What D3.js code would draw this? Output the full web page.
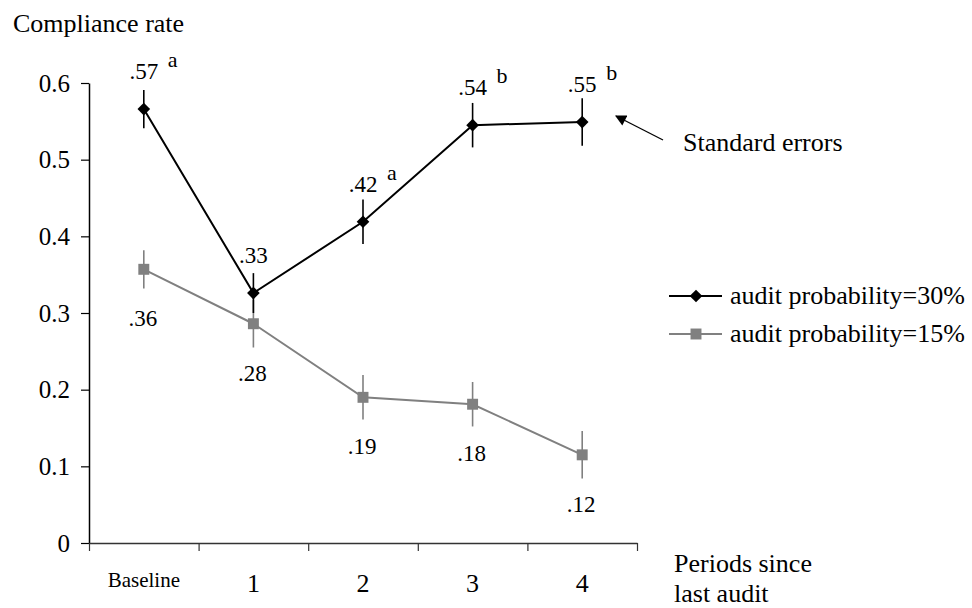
<!DOCTYPE html>
<html>
<head>
<meta charset="utf-8">
<title>Compliance rate</title>
<script src="https://cdn.jsdelivr.net/npm/d3@7"></script>
<style>
  body { margin: 0; background: #fff; }
</style>
</head>
<body>
<script>
// data
var periods = ["Baseline", "1", "2", "3", "4"];
var high = [0.566, 0.326, 0.419, 0.545, 0.549];      // audit probability=30%
var highSE = [0.025, 0.026, 0.029, 0.029, 0.031];
var highLabels = [".57", ".33", ".42", ".54", ".55"];
var highSup = ["a", "", "a", "b", "b"];
var low = [0.357, 0.286, 0.19, 0.181, 0.115];          // audit probability=15%
var lowSE = [0.025, 0.031, 0.029, 0.029, 0.031];
var lowLabels = [".36", ".28", ".19", ".18", ".12"];
var yTicks = [0, 0.1, 0.2, 0.3, 0.4, 0.5, 0.6];

var W = 972, H = 608;
var FONT = '"Liberation Serif"';
var svg = d3.select("body").append("svg")
    .attr("width", W)
    .attr("height", H);

var x = d3.scaleBand().domain(periods).range([89, 637]);
var xEdge = d3.scaleLinear().domain([0, periods.length]).range([89, 637]);
var y = d3.scaleLinear().domain([0, 0.6]).range([543, 83]);
var cx = function(i) { return x(periods[i]) + x.bandwidth() / 2; };

// y axis
var yAxis = svg.append("g")
    .attr("transform", "translate(89,0)")
    .call(d3.axisLeft(y).tickValues(yTicks).tickSize(8).tickSizeOuter(0).tickPadding(11)
        .tickFormat(function(d) { return d === 0 ? "0" : d3.format(".1f")(d); }));
yAxis.select(".domain").attr("stroke", "#000").attr("stroke-width", 1.5);
yAxis.selectAll(".tick line").attr("stroke", "#000").attr("stroke-width", 1.2);
yAxis.selectAll(".tick text").style("font-size", "25px");

// x axis, ticks at category boundaries
var xAxis = svg.append("g")
    .attr("transform", "translate(0,543)")
    .call(d3.axisBottom(xEdge).tickValues(d3.range(periods.length + 1)).tickSize(8).tickSizeOuter(0)
        .tickFormat(""));
xAxis.select(".domain").attr("stroke", "#333").attr("stroke-width", 1.5);
xAxis.selectAll(".tick line").attr("stroke", "#333").attr("stroke-width", 1.2);

svg.append("g").selectAll("text")
    .data(periods)
    .enter().append("text")
    .attr("x", function(d) { return x(d) + x.bandwidth() / 2; })
    .attr("y", function(d, i) { return i === 0 ? 587 : 592; })
    .attr("text-anchor", "middle")
    .style("font-size", function(d, i) { return i === 0 ? "21px" : "26px"; })
    .text(function(d) { return d; });

// titles
svg.append("text").attr("x", 13).attr("y", 32).style("font-size", "26px").text("Compliance rate");
svg.append("text").attr("x", 674).attr("y", 572).style("font-size", "26px").text("Periods since");
svg.append("text").attr("x", 674).attr("y", 602).style("font-size", "26px").text("last audit");

var line = d3.line()
    .x(function(d, i) { return cx(i); })
    .y(function(d) { return y(d); });

function drawSeries(vals, se, color, diamond) {
    var g = svg.append("g");
    g.selectAll(".err")
        .data(vals)
        .enter().append("line")
        .attr("x1", function(d, i) { return cx(i); })
        .attr("x2", function(d, i) { return cx(i); })
        .attr("y1", function(d, i) { return y(d + se[i]); })
        .attr("y2", function(d, i) { return y(d - se[i]); })
        .attr("stroke", color)
        .attr("stroke-width", 1.6);
    g.append("path")
        .datum(vals)
        .attr("d", line)
        .attr("fill", "none")
        .attr("stroke", color)
        .attr("stroke-width", 2);
    g.selectAll(".mk")
        .data(vals)
        .enter().append("path")
        .attr("d", d3.symbol().type(d3.symbolSquare).size(diamond ? 80 : 120))
        .attr("transform", function(d, i) {
            return "translate(" + cx(i) + "," + y(d) + ")" + (diamond ? " rotate(45)" : "");
        })
        .attr("fill", color);
}

drawSeries(low, lowSE, "#808080", false);
drawSeries(high, highSE, "#000", true);

// value labels
svg.append("g").selectAll("text")
    .data(high)
    .enter().append("text")
    .attr("x", function(d, i) { return cx(i); })
    .attr("y", function(d) { return y(d) - 30; })
    .attr("text-anchor", "middle")
    .style("font-size", "23px")
    .text(function(d, i) { return highLabels[i]; });
svg.append("g").selectAll("text")
    .data(high)
    .enter().append("text")
    .attr("x", function(d, i) { return cx(i) + 24; })
    .attr("y", function(d) { return y(d) - 42; })
    .style("font-size", "22px")
    .text(function(d, i) { return highSup[i]; });
svg.append("g").selectAll("text")
    .data(low)
    .enter().append("text")
    .attr("x", function(d, i) { return cx(i) - 1; })
    .attr("y", function(d) { return y(d) + 57; })
    .attr("text-anchor", "middle")
    .style("font-size", "23px")
    .text(function(d, i) { return lowLabels[i]; });

// standard errors annotation
svg.append("defs").append("marker")
    .attr("id", "arrow")
    .attr("viewBox", "0 0 10 10")
    .attr("refX", 9).attr("refY", 5)
    .attr("markerWidth", 12).attr("markerHeight", 11)
    .attr("markerUnits", "userSpaceOnUse")
    .attr("orient", "auto")
    .append("path").attr("d", "M0,0L10,5L0,10z").attr("fill", "#000");
svg.append("line")
    .attr("x1", 663).attr("y1", 140)
    .attr("x2", 616).attr("y2", 116)
    .attr("stroke", "#000").attr("stroke-width", 1.3)
    .attr("marker-end", "url(#arrow)");
svg.append("text").attr("x", 683).attr("y", 151).style("font-size", "26px").text("Standard errors");

// legend
var legend = [
    { name: "audit probability=30%", color: "#000", diamond: true },
    { name: "audit probability=15%", color: "#808080", diamond: false }
];
var lg = svg.append("g").selectAll("g")
    .data(legend)
    .enter().append("g")
    .attr("transform", function(d, i) { return "translate(669," + (296 + i * 38) + ")"; });
lg.append("line")
    .attr("x1", 0).attr("x2", 53)
    .attr("stroke", function(d) { return d.color; })
    .attr("stroke-width", 2);
lg.append("path")
    .attr("d", function(d) { return d3.symbol().type(d3.symbolSquare).size(d.diamond ? 80 : 120)(); })
    .attr("transform", function(d) { return "translate(27,0)" + (d.diamond ? " rotate(45)" : ""); })
    .attr("fill", function(d) { return d.color; });
lg.append("text")
    .attr("x", 61).attr("y", 8)
    .style("font-size", "26px")
    .text(function(d) { return d.name; });

// serif everywhere, set inline so nothing overrides it
svg.selectAll("text").style("font-family", FONT).style("fill", "#000");
</script>
</body>
</html>
